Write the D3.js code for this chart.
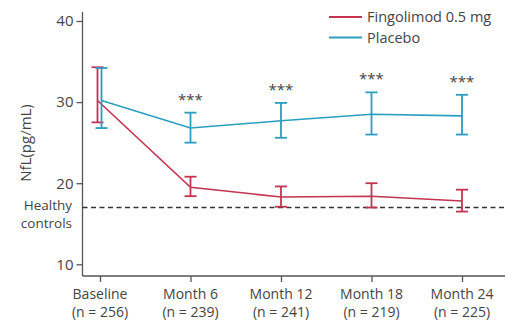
<!DOCTYPE html>
<html><head><meta charset="utf-8">
<script src="https://cdn.jsdelivr.net/npm/d3@7"></script>
<style>body{margin:0;background:#fff}svg{display:block}text{font-family:"Open Sans",sans-serif;fill:#444}</style>
</head><body><svg id="c" width="512" height="320"></svg>
<script>
const categories = ["Baseline","Month 6","Month 12","Month 18","Month 24"];
const nLabels = ["(n = 256)","(n = 239)","(n = 241)","(n = 219)","(n = 225)"];
const fingoMean = [30.2, 19.5, 18.3, 18.4, 17.8];
const fingoLo   = [27.5, 18.4, 17.1, 17.0, 16.5];
const fingoHi   = [34.3, 20.8, 19.6, 20.0, 19.2];
const placMean  = [30.2, 26.8, 27.7, 28.5, 28.3];
const placLo    = [26.8, 25.0, 25.6, 26.0, 26.0];
const placHi    = [34.2, 28.7, 29.9, 31.2, 30.9];
const stars     = ["", "***", "***", "***", "***"];
const healthy = 17.0;
const yTicks = [10, 20, 30, 40];
const seriesNames = ["Fingolimod 0.5 mg", "Placebo"];
const RED = "#c4334f", BLUE = "#2a9ebf";

const svg = d3.select("#c");
const x = d3.scalePoint().domain(categories).range([100, 462]);
const y = d3.scaleLinear().domain([10, 40]).range([264.3, 21]);
const axX = 82.5, axBottom = 276, axTop = 12, axRight = 505;

svg.append("line").attr("x1", axX).attr("x2", axX).attr("y1", axTop).attr("y2", axBottom).attr("stroke", "#555").attr("stroke-width", 1.3);
svg.append("line").attr("x1", axX).attr("x2", axRight).attr("y1", axBottom).attr("y2", axBottom).attr("stroke", "#555").attr("stroke-width", 1.3);
const ya = svg.append("g").attr("transform", `translate(${axX},0)`).call(d3.axisLeft(y).tickValues(yTicks).tickSize(6).tickPadding(3));
ya.select(".domain").remove();
ya.selectAll("line").attr("stroke", "#555").attr("stroke-width", 1.3);
ya.selectAll("text").attr("font-size", 15).attr("fill", "#444").attr("font-family", "Open Sans");
const xa = svg.append("g").attr("transform", `translate(0,${axBottom})`).call(d3.axisBottom(x).tickSize(6).tickFormat(() => ""));
xa.select(".domain").remove();
xa.selectAll("line").attr("stroke", "#555").attr("stroke-width", 1.3);
categories.forEach((c, i) => {
  svg.append("text").attr("x", x(c)).attr("y", 299).attr("text-anchor", "middle").attr("font-size", 14).text(c);
  svg.append("text").attr("x", x(c)).attr("y", 317).attr("text-anchor", "middle").attr("font-size", 14).text(nLabels[i]);
});

svg.append("text").attr("transform", `translate(31,143) rotate(-90)`).attr("text-anchor", "middle").attr("font-size", 15).text("NfL(pg/mL)");

svg.append("line").attr("x1", axX).attr("x2", axRight).attr("y1", y(healthy)).attr("y2", y(healthy))
  .attr("stroke", "#333").attr("stroke-width", 1.5).attr("stroke-dasharray", "5,3.5");
svg.append("text").attr("x", 72).attr("y", 210).attr("text-anchor", "end").attr("font-size", 13.5).text("Healthy");
svg.append("text").attr("x", 72).attr("y", 228).attr("text-anchor", "end").attr("font-size", 13.5).text("controls");

function series(mean, lo, hi, color, dx) {
  const line = d3.line().x((d, i) => x(categories[i]) + (i === 0 ? dx : 0)).y(d => y(d));
  svg.append("path").attr("d", line(mean)).attr("fill", "none").attr("stroke", color).attr("stroke-width", 1.6);
  const g = svg.append("g").attr("stroke", color).attr("stroke-width", 1.8);
  mean.forEach((m, i) => {
    const cx = x(categories[i]) + (i === 0 ? dx : 0);
    g.append("line").attr("x1", cx).attr("x2", cx).attr("y1", y(lo[i])).attr("y2", y(hi[i]));
    g.append("line").attr("x1", cx - 6).attr("x2", cx + 6).attr("y1", y(lo[i])).attr("y2", y(lo[i]));
    g.append("line").attr("x1", cx - 6).attr("x2", cx + 6).attr("y1", y(hi[i])).attr("y2", y(hi[i]));
  });
}
series(fingoMean, fingoLo, fingoHi, RED, -2.5);
series(placMean, placLo, placHi, BLUE, 1.5);

stars.forEach((s, i) => {
  if (!s) return;
  svg.append("text").attr("x", x(categories[i])).attr("y", y(placHi[i]) - 8).attr("text-anchor", "middle").attr("font-size", 15).attr("fill", "#555").text(s);
});

const legColors = [RED, BLUE];
seriesNames.forEach((n, i) => {
  const ly = 17 + i * 20.5;
  svg.append("line").attr("x1", 329).attr("x2", 362).attr("y1", ly).attr("y2", ly).attr("stroke", legColors[i]).attr("stroke-width", 2);
  svg.append("text").attr("x", 367).attr("y", ly + 5).attr("font-size", 14.5).text(n);
});
</script></body></html>
